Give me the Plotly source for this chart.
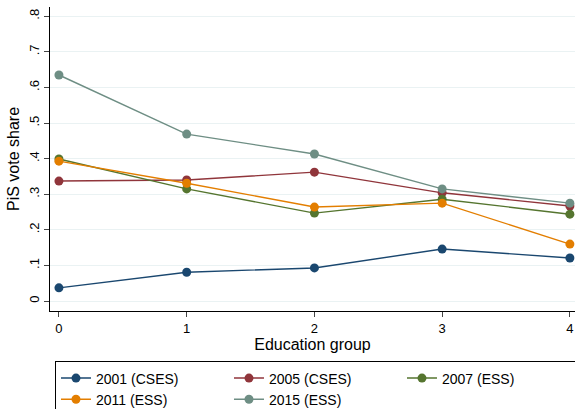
import plotly.graph_objects as go

education = [0, 1, 2, 3, 4]
series_names = ["2001 (CSES)", "2005 (CSES)", "2007 (ESS)", "2011 (ESS)", "2015 (ESS)"]
v2001 = [0.037, 0.081, 0.093, 0.146, 0.121]
v2005 = [0.337, 0.340, 0.362, 0.304, 0.267]
v2007 = [0.399, 0.315, 0.247, 0.286, 0.244]
v2011 = [0.393, 0.331, 0.264, 0.275, 0.160]
v2015 = [0.635, 0.469, 0.413, 0.315, 0.275]
colors = ["#1a476f", "#90353b", "#55752f", "#e37e00", "#6e8e84"]
y_ticks = [0, 0.1, 0.2, 0.3, 0.4, 0.5, 0.6, 0.7, 0.8]
y_labels = ["0", ".1", ".2", ".3", ".4", ".5", ".6", ".7", ".8"]

fig = go.Figure()
for name, vals, c in zip(series_names, [v2001, v2005, v2007, v2011, v2015], colors):
    fig.add_trace(go.Scatter(x=education, y=vals, mode="lines+markers", name=name,
                             line=dict(color=c, width=1.4),
                             marker=dict(color=c, size=9)))

fig.update_layout(
    width=575, height=409,
    margin=dict(l=50, r=0, t=7, b=98, autoexpand=False),
    paper_bgcolor="white", plot_bgcolor="white",
    font=dict(family="Liberation Sans, Arial, sans-serif", size=13, color="black"),
    xaxis=dict(range=[-0.07, 4.04], tickvals=education, ticks="outside", ticklen=5,
               showline=True, linecolor="black", linewidth=1, showgrid=False, zeroline=False,
               title=dict(text="Education group", standoff=4), tickfont=dict(size=13)),
    yaxis=dict(range=[-0.028, 0.826], tickvals=y_ticks, ticktext=y_labels, tickangle=-90,
               ticks="outside", ticklen=5, showline=True, linecolor="black", linewidth=1,
               showgrid=True, gridcolor="#eaf2f3", gridwidth=1, zeroline=False,
               title=dict(text="PiS vote share", standoff=3), tickfont=dict(size=13)),
    legend=dict(orientation="h", x=0.0095, xanchor="left", y=-0.166, yanchor="top",
                entrywidth=128, entrywidthmode="pixels",
                bordercolor="black", borderwidth=1, font=dict(size=14),
                traceorder="normal", tracegroupgap=0),
    showlegend=True,
)

fig.write_html("out.html", config={"displayModeBar": False},
               post_script="document.body.style.margin='0';")
